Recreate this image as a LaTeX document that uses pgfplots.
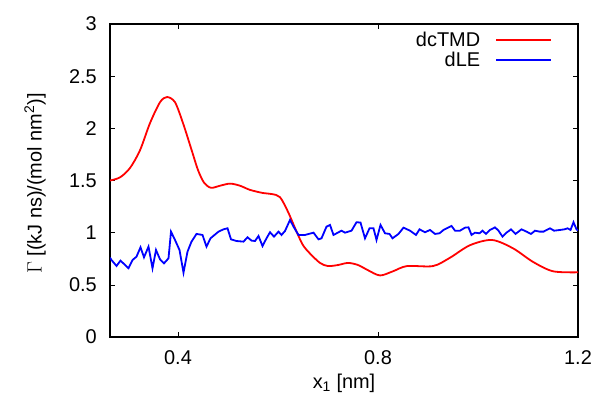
\documentclass[border=0pt]{standalone}
\usepackage{fontspec}
\setmainfont{Liberation Sans}
\usepackage{pgfplots}
\pgfplotsset{compat=1.18}
\begin{document}
\begin{tikzpicture}[x=1bp,y=1bp]
\useasboundingbox (0,0) rectangle (598,401);
\begin{axis}[
  at={(110bp,64bp)}, anchor=south west,
  width=468bp, height=313bp, scale only axis,
  xmin=0.264, xmax=1.2, ymin=0, ymax=3,
  xtick={0.4,0.8,1.2}, ytick={0,0.5,1,1.5,2,2.5,3},
  tick align=inside, xtick pos=both, ytick pos=both,
  major tick length=5bp,
  axis line style={line width=1.3pt},
  every tick/.style={black, line width=0.6pt},
  /pgf/number format/assume math mode=true,
  /pgf/number format/fixed,
  ticklabel style={font=\fontsize{20}{23}\selectfont},
  xticklabel style={inner sep=0pt, anchor=north, yshift=-13bp},
  yticklabel style={inner sep=0pt, anchor=east, xshift=-13bp},
  label style={font=\fontsize{20}{23}\selectfont},
  xlabel={x\textsubscript{1} [nm]},
  ylabel={$\Gamma$ [(kJ ns)/(mol nm\textsuperscript{2})]},
  xlabel style={at={(axis description cs:0.5,-0.147)}, anchor=center, inner sep=0pt},
  ylabel style={at={(axis description cs:-0.16,0.49)}, anchor=center, rotate=0, inner sep=0pt},
  legend plot pos=right,
  legend cell align=right,
  legend style={draw=none, fill=none, at={(0.9444,0.977)}, anchor=north east,
    inner sep=0pt, outer sep=0pt, row sep=5bp, column sep=15bp,
    font=\fontsize{20}{23}\selectfont,
    nodes={inner sep=0pt, text height=15bp, text depth=0pt}},
  legend image code/.code={\draw[#1] (0bp,-1bp) -- (55bp,-1bp);},
]
\addplot[red, line width=1.8pt, smooth, tension=0.5] coordinates {
(0.264,1.50) (0.284,1.53) (0.304,1.62) (0.324,1.79) (0.344,2.05) (0.364,2.25)
(0.378,2.30) (0.394,2.25) (0.41,2.05) (0.428,1.78) (0.440,1.60) (0.452,1.48)
(0.466,1.43) (0.484,1.45) (0.504,1.47) (0.524,1.45) (0.544,1.41) (0.570,1.38) (0.588,1.37)
(0.604,1.34) (0.62,1.20) (0.638,1.00) (0.65,0.88) (0.664,0.80) (0.684,0.71)
(0.70,0.68) (0.72,0.69) (0.74,0.71) (0.76,0.69) (0.78,0.64) (0.804,0.59)
(0.83,0.63) (0.858,0.68) (0.91,0.68) (0.944,0.76) (0.984,0.88) (1.028,0.93)
(1.07,0.85) (1.11,0.72) (1.15,0.63) (1.2,0.62)
};
\addlegendentry{dcTMD}
\addplot[blue, line width=1.8pt] coordinates {
(0.264,0.76) (0.267,0.738) (0.277,0.681) (0.285,0.732) (0.301,0.659) (0.309,0.738)
(0.317,0.770) (0.325,0.860) (0.332,0.764) (0.341,0.866) (0.349,0.659) (0.356,0.834)
(0.364,0.745) (0.372,0.706) (0.381,0.754) (0.386,1.01) (0.394,0.930) (0.403,0.834)
(0.411,0.617) (0.419,0.818) (0.427,0.914) (0.437,0.988) (0.449,0.978) (0.457,0.866)
(0.465,0.946) (0.481,1.01) (0.491,1.032) (0.499,1.042) (0.506,0.936) (0.517,0.920)
(0.531,0.914) (0.539,0.956) (0.547,0.924) (0.554,0.920) (0.561,0.968) (0.569,0.872)
(0.577,0.946) (0.584,1.004) (0.592,0.962) (0.601,1.01) (0.607,0.978) (0.614,1.016)
(0.624,1.122) (0.631,1.058) (0.641,0.978) (0.654,0.978) (0.671,1.0) (0.681,0.936)
(0.687,0.946) (0.697,1.058) (0.704,1.074) (0.711,0.978) (0.727,1.019) (0.734,1.0)
(0.747,1.019) (0.757,1.10) (0.765,1.097) (0.774,0.946) (0.783,1.042) (0.791,1.042)
(0.797,0.930) (0.805,1.074) (0.814,0.994) (0.823,0.988) (0.829,0.946) (0.841,0.988)
(0.851,1.048) (0.864,1.019) (0.876,0.978) (0.883,1.032) (0.894,1.004) (0.904,1.026)
(0.914,0.988) (0.923,0.994) (0.931,1.026) (0.947,1.064) (0.954,1.019) (0.964,1.019)
(0.974,1.048) (0.981,1.051) (0.987,0.978) (0.994,1.0) (1.003,0.994) (1.009,1.019)
(1.016,0.988) (1.024,1.026) (1.034,1.051) (1.041,1.019) (1.049,0.962) (1.057,1.0)
(1.066,1.032) (1.075,0.988) (1.087,1.032) (1.097,1.010) (1.106,0.988) (1.114,1.019)
(1.123,1.010) (1.131,1.010) (1.144,1.042) (1.152,1.019) (1.164,1.026) (1.173,1.032)
(1.179,1.042) (1.185,1.026) (1.191,1.10) (1.197,1.032) (1.2,1.02)
};
\addlegendentry{dLE}
\end{axis}
\end{tikzpicture}
\end{document}
